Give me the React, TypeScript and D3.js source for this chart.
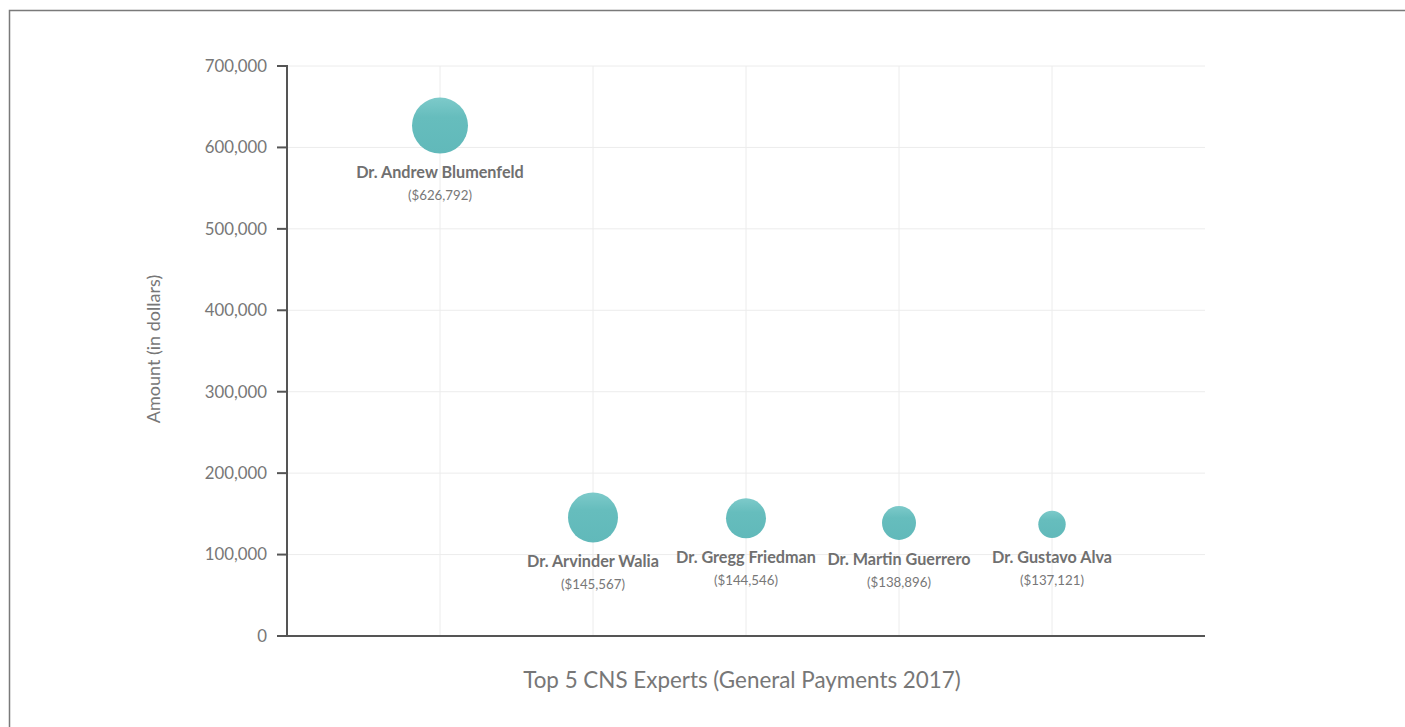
import React from "react";
import * as d3 from "d3";

const doctors = [
  "Dr. Andrew Blumenfeld",
  "Dr. Arvinder Walia",
  "Dr. Gregg Friedman",
  "Dr. Martin Guerrero",
  "Dr. Gustavo Alva",
];
const amounts = [626792, 145567, 144546, 138896, 137121];
const bubbleSizes = [784, 625, 400, 289, 188];
const yTicks = [0, 100000, 200000, 300000, 400000, 500000, 600000, 700000];
const xTitle = "Top 5 CNS Experts (General Payments 2017)";
const yTitle = "Amount (in dollars)";

const W = 1405;
const H = 727;
const left = 287;
const right = 1205;
const top = 66;
const bottom = 636;
const FONT = "Lato, 'Open Sans', sans-serif";

export default function App() {
  const x = d3.scaleLinear().domain([0, doctors.length + 1]).range([left, right]);
  const y = d3.scaleLinear().domain([0, 700000]).range([bottom, top]);
  const r = d3.scaleSqrt().domain([0, d3.max(bubbleSizes) as number]).range([0, 28]);
  const fmt = d3.format(",");

  return (
    <svg
      width={W}
      height={H}
      style={{ position: "absolute", left: 0, top: 0, background: "#fff" }}
    >
      <defs>
        <linearGradient id="bub" x1="0" y1="0" x2="0" y2="1">
          <stop offset="0%" stopColor="#7dcaca" />
          <stop offset="35%" stopColor="#66bdbd" />
          <stop offset="100%" stopColor="#61b9ba" />
        </linearGradient>
      </defs>
      <rect x={9.5} y={10.5} width={W + 20} height={H + 20} fill="none" stroke="#7a7a7a" strokeWidth={1.5} />

      {/* grid */}
      {yTicks.filter((t) => t > 0).map((t) => (
        <line key={"hg" + t} x1={left} x2={right} y1={y(t)} y2={y(t)} stroke="#ececec" strokeWidth={1} />
      ))}
      {doctors.map((d, i) => (
        <line key={"vg" + i} x1={x(i + 1)} x2={x(i + 1)} y1={top} y2={bottom} stroke="#ececec" strokeWidth={1} />
      ))}

      {/* axes */}
      <line x1={left} x2={left} y1={top - 1} y2={bottom + 1} stroke="#555" strokeWidth={2} />
      <line x1={left - 1} x2={right} y1={bottom} y2={bottom} stroke="#555" strokeWidth={2} />
      {yTicks.map((t) => (
        <g key={"yt" + t}>
          <line x1={left - 10} x2={left} y1={y(t)} y2={y(t)} stroke="#555" strokeWidth={2} />
          <text
            x={left - 20}
            y={y(t)}
            dy="0.35em"
            textAnchor="end"
            fontFamily={FONT}
            fontSize={16.8}
            fill="#777"
          >
            {fmt(t)}
          </text>
        </g>
      ))}

      {/* bubbles */}
      {doctors.map((d, i) => {
        const cx = x(i + 1);
        const cy = y(amounts[i]);
        const rr = r(bubbleSizes[i]);
        return (
          <g key={"b" + i}>
            <circle cx={cx} cy={cy} r={rr} fill="url(#bub)" />
            <text
              x={cx}
              y={cy + rr + 19}
              dy="0.35em"
              textAnchor="middle"
              fontFamily={FONT}
              fontWeight="bold"
              fontSize={16.2}
              fill="#707070"
            >
              {d}
            </text>
            <text
              x={cx}
              y={cy + rr + 42}
              dy="0.35em"
              textAnchor="middle"
              fontFamily={FONT}
              fontSize={13.3}
              fill="#777"
            >
              {"($" + fmt(amounts[i]) + ")"}
            </text>
          </g>
        );
      })}

      {/* titles */}
      <text
        x={742}
        y={680}
        dy="0.35em"
        textAnchor="middle"
        fontFamily={FONT}
        fontSize={22.4}
        fill="#777"
      >
        {xTitle}
      </text>
      <text
        transform={`translate(154,349) rotate(-90)`}
        dy="0.35em"
        textAnchor="middle"
        fontFamily={FONT}
        fontSize={18}
        fill="#777"
      >
        {yTitle}
      </text>
    </svg>
  );
}
